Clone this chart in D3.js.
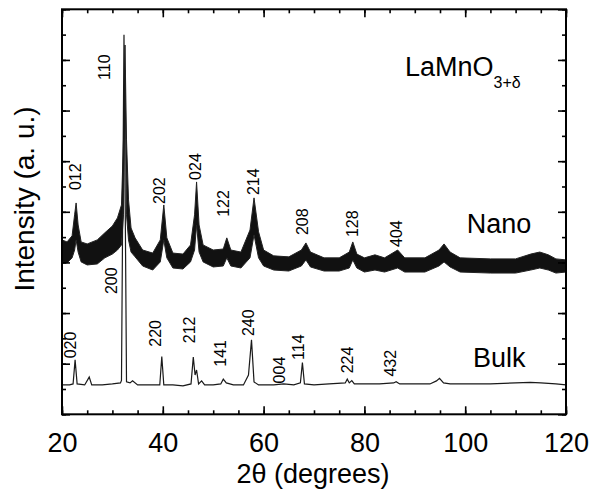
<!DOCTYPE html>
<html>
<head>
<meta charset="utf-8">
<script src="https://cdn.jsdelivr.net/npm/d3@7"></script>
<style>
  body { margin: 0; background: #fff; }
  svg text { font-family: "Liberation Sans", Arial, sans-serif; fill: #000; }
</style>
</head>
<body>
<svg width="589" height="489"></svg>
<script>
// nano pattern: noisy band, read as upper / lower envelope
const nanoTheta = [20, 21, 22, 22.5, 22.8, 23.2, 23.8, 25, 27, 28.5, 30, 31, 31.8, 32.2, 32.5, 32.8, 33.2, 33.7, 34.5, 36, 38, 39.5, 40.2, 40.8, 42, 44, 45.5, 46.3, 46.7, 47.2, 48, 50, 52, 52.7, 53.5, 55.5, 57.3, 58.1, 59, 60, 62, 65, 67.5, 68.4, 69.3, 72, 75, 77, 77.7, 78.5, 80, 82.1, 84, 86.6, 88, 92, 94.8, 95.8, 97, 99, 105, 110, 113, 114.8, 116.5, 118, 120];
const nanoUpper = [6.89, 6.81, 7.05, 7.88, 8.35, 7.48, 6.81, 6.73, 6.89, 7.17, 7.44, 7.76, 8.27, 10.84, 14.59, 10.84, 8.47, 7.36, 6.97, 6.49, 6.37, 6.89, 8.27, 6.97, 6.37, 6.33, 6.69, 7.88, 9.18, 7.48, 6.69, 6.49, 6.53, 6.97, 6.49, 6.41, 7.28, 8.55, 7.21, 6.49, 6.26, 6.22, 6.49, 6.77, 6.41, 6.18, 6.18, 6.41, 6.81, 6.33, 6.18, 6.30, 6.18, 6.49, 6.18, 6.18, 6.49, 6.73, 6.41, 6.18, 6.14, 6.14, 6.33, 6.41, 6.30, 6.14, 6.10];
const nanoLower = [6.02, 5.98, 6.18, 6.49, 6.89, 6.41, 6.02, 5.90, 5.94, 6.18, 6.33, 6.49, 6.69, 7.88, 13.6, 7.88, 6.89, 6.41, 6.22, 5.86, 5.70, 6.02, 6.89, 6.18, 5.78, 5.74, 6.02, 6.49, 7.48, 6.41, 6.02, 5.82, 5.86, 6.18, 5.86, 5.78, 6.18, 7.09, 6.18, 5.86, 5.70, 5.66, 5.86, 6.10, 5.82, 5.66, 5.66, 5.78, 6.10, 5.78, 5.62, 5.70, 5.62, 5.78, 5.62, 5.62, 5.86, 6.02, 5.82, 5.62, 5.58, 5.58, 5.70, 5.78, 5.70, 5.58, 5.62];

// bulk pattern
const bulkTheta = [20, 21.5, 22.2, 22.6, 23, 24.5, 25.4, 25.9, 28, 30, 31.6, 31.8, 32.3, 32.8, 33.5, 34, 35, 37, 39.4, 39.8, 40.2, 42, 44, 45.6, 46.05, 46.4, 46.7, 47.1, 47.7, 48.3, 50, 51.5, 52, 52.6, 54, 56, 57, 57.6, 58.1, 59, 62, 64, 66, 67.3, 67.7, 68.1, 70, 73, 76.2, 76.6, 77, 77.5, 78, 80, 83, 85.8, 86.3, 87, 90, 93, 94.3, 94.9, 95.7, 97, 100, 105, 110, 112.9, 115, 118, 120];
const bulkIntensity = [1.16, 1.16, 1.20, 2.15, 1.20, 1.16, 1.47, 1.16, 1.16, 1.20, 1.24, 1.34, 14.99, 1.28, 1.24, 1.32, 1.16, 1.16, 1.16, 2.28, 1.16, 1.16, 1.12, 1.20, 2.26, 1.55, 1.75, 1.20, 1.32, 1.16, 1.16, 1.20, 1.39, 1.24, 1.16, 1.16, 1.55, 2.94, 1.28, 1.16, 1.16, 1.20, 1.16, 1.24, 2.04, 1.20, 1.16, 1.20, 1.24, 1.39, 1.24, 1.33, 1.20, 1.20, 1.20, 1.24, 1.29, 1.20, 1.20, 1.20, 1.32, 1.42, 1.24, 1.20, 1.20, 1.20, 1.24, 1.26, 1.24, 1.20, 1.16];

// Miller index labels (2theta of label, intensity where label starts)
const nanoHkl = ["012", "110", "202", "024", "122", "214", "208", "128", "404"];
const nanoHklTheta = [22.58, 28.53, 39.44, 46.53, 52.14, 57.90, 67.62, 77.54, 86.41];
const nanoHklLevel = [8.86, 13.21, 8.31, 9.26, 7.80, 8.66, 7.08, 7.00, 6.61];
const bulkHkl = ["020", "200", "220", "212", "141", "240", "004", "114", "224", "432"];
const bulkHklTheta = [21.73, 29.86, 38.65, 45.26, 51.35, 56.96, 63.11, 66.88, 76.69, 85.08];
const bulkHklLevel = [2.21, 4.75, 2.67, 2.81, 1.88, 3.09, 1.22, 2.15, 1.62, 1.49];

const xMajor = [20, 40, 60, 80, 100, 120];
const xMinor = d3.range(20, 121, 5);
const yMajor = d3.range(0, 17, 2);
const yMinor = d3.range(0, 17, 1);

const margin = { top: 9.3, right: 23, bottom: 74.7, left: 62 };
const width = 589, height = 489;
const svg = d3.select("svg");

const x = d3.scaleLinear().domain([20, 120]).range([margin.left, width - margin.right]);
const y = d3.scaleLinear().domain([0, 16]).range([height - margin.bottom, margin.top]);

// nano band
const nano = nanoTheta.map((t, i) => ({ t, hi: nanoUpper[i], lo: nanoLower[i] }));
svg.append("path")
  .datum(nano)
  .attr("d", d3.area().x(d => x(d.t)).y0(d => y(d.lo)).y1(d => y(d.hi)))
  .attr("fill", "#111")
  .attr("stroke", "#222")
  .attr("stroke-width", 1);

// bulk line
const bulk = bulkTheta.map((t, i) => ({ t, v: bulkIntensity[i] }));
svg.append("path")
  .datum(bulk)
  .attr("d", d3.line().x(d => x(d.t)).y(d => y(d.v)))
  .attr("fill", "none")
  .attr("stroke", "#1a1a1a")
  .attr("stroke-width", 1.2);

// axes, ticks pointing in
const plotBottom = y.range()[0], plotTop = y.range()[1];
const plotLeft = x.range()[0], plotRight = x.range()[1];

function axis(gen, transform) {
  const g = svg.append("g").attr("transform", transform).call(gen);
  g.select(".domain").remove();
  g.selectAll(".tick line").attr("stroke", "#000").attr("stroke-width", 1.6);
  return g;
}

axis(d3.axisBottom(x).tickValues(xMinor).tickSize(-4).tickFormat(""), `translate(0,${plotBottom})`);
axis(d3.axisTop(x).tickValues(xMinor).tickSize(-4).tickFormat(""), `translate(0,${plotTop})`);
axis(d3.axisTop(x).tickValues(xMajor).tickSize(-8).tickFormat(""), `translate(0,${plotTop})`);
const xAx = axis(d3.axisBottom(x).tickValues(xMajor).tickSize(-8).tickPadding(19).tickFormat(d3.format("d")),
  `translate(0,${plotBottom})`);
xAx.selectAll("text").attr("font-size", 27).attr("fill", "#000");

axis(d3.axisLeft(y).tickValues(yMinor).tickSize(-4).tickFormat(""), `translate(${plotLeft},0)`);
axis(d3.axisLeft(y).tickValues(yMajor).tickSize(-8).tickFormat(""), `translate(${plotLeft},0)`);
axis(d3.axisRight(y).tickValues(yMinor).tickSize(-4).tickFormat(""), `translate(${plotRight},0)`);
axis(d3.axisRight(y).tickValues(yMajor).tickSize(-8).tickFormat(""), `translate(${plotRight},0)`);

svg.append("rect")
  .attr("x", plotLeft).attr("y", plotTop)
  .attr("width", plotRight - plotLeft).attr("height", plotBottom - plotTop)
  .attr("fill", "none").attr("stroke", "#000").attr("stroke-width", 2);

// hkl labels
function hkl(names, thetas, levels) {
  svg.append("g").selectAll("text")
    .data(names)
    .join("text")
    .attr("transform", (d, i) => `translate(${x(thetas[i])},${y(levels[i])}) rotate(-90)`)
    .attr("text-anchor", "start")
    .attr("dominant-baseline", "central")
    .attr("font-size", 16)
    .text(d => d);
}
hkl(nanoHkl, nanoHklTheta, nanoHklLevel);
hkl(bulkHkl, bulkHklTheta, bulkHklLevel);

// sample names
svg.append("text").attr("x", x(100.3)).attr("y", y(7.16)).attr("font-size", 27).text("Nano");
svg.append("text").attr("x", x(101.55)).attr("y", y(1.87)).attr("font-size", 27).text("Bulk");

const title = svg.append("text").attr("x", x(88.06)).attr("y", y(13.37)).attr("font-size", 27);
title.append("tspan").text("LaMnO");
title.append("tspan").attr("font-size", 16).attr("dy", 12).text("3+δ");

// axis titles
svg.append("text")
  .attr("x", (plotLeft + plotRight) / 2 - 1)
  .attr("y", 483)
  .attr("text-anchor", "middle")
  .attr("font-size", 27)
  .text("2θ (degrees)");

svg.append("text")
  .attr("transform", `translate(34,199) rotate(-90)`)
  .attr("text-anchor", "middle")
  .attr("font-size", 28)
  .text("Intensity (a. u.)");
</script>
</body>
</html>
